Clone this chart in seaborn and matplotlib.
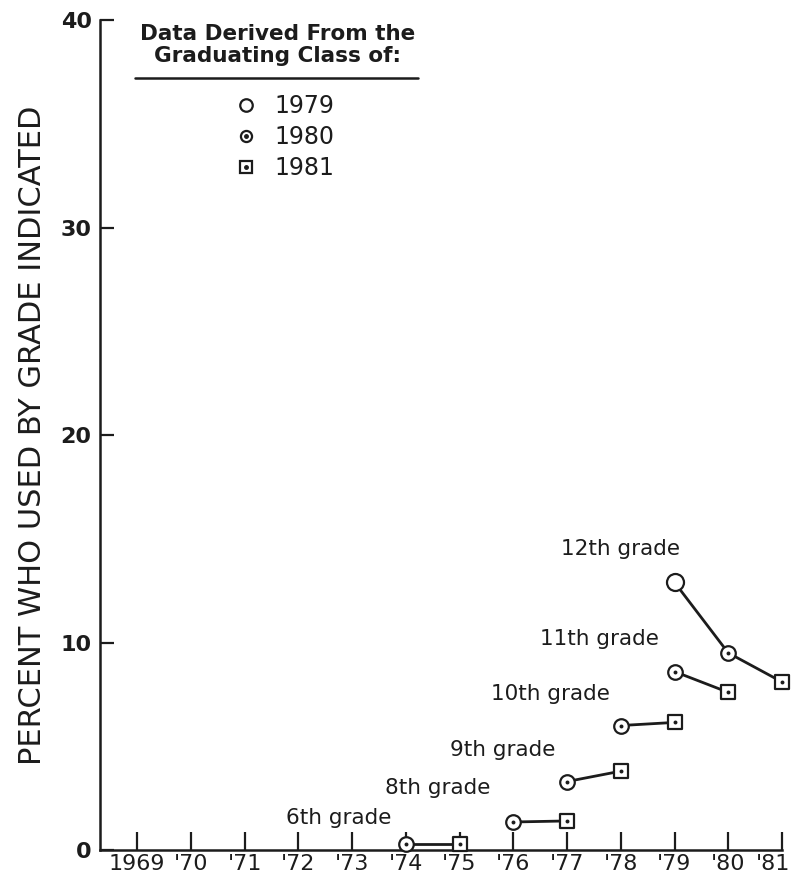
import pandas as pd
import matplotlib.pyplot as plt
import matplotlib.transforms as mtransforms
import seaborn as sns
from matplotlib.lines import Line2D
from matplotlib.legend_handler import HandlerTuple

# one row per point: grade, survey year, graduating class, percent
grade = ['6th', '6th', '8th', '8th', '9th', '9th', '10th', '10th',
         '11th', '11th', '12th', '12th', '12th']
year = [1974, 1975, 1976, 1977, 1977, 1978, 1978, 1979,
        1979, 1980, 1979, 1980, 1981]
grad_class = [1980, 1981, 1980, 1981, 1980, 1981, 1980, 1981,
              1980, 1981, 1979, 1980, 1981]
percent = [0.3, 0.3, 1.35, 1.4, 3.3, 3.8, 6.0, 6.15,
           8.6, 7.6, 12.9, 9.5, 8.1]

grade_labels = ['6th grade', '8th grade', '9th grade', '10th grade',
                '11th grade', '12th grade']
xtick_years = list(range(1969, 1982))
xtick_labels = ['1969'] + ["'%d" % (y % 100) for y in range(1970, 1982)]
ytick_values = [0, 10, 20, 30, 40]

df = pd.DataFrame({'grade': grade, 'year': year,
                   'grad_class': grad_class, 'percent': percent})

ink = '#1c1c1c'
sns.set_style('ticks')
plt.rcParams['font.family'] = ['DejaVu Sans']

fig = plt.figure(figsize=(7.98, 8.81), dpi=100)
ax = fig.add_axes([0.1253, 0.0352, 0.98 - 0.1253, 0.977 - 0.0352])

# connecting lines, one per grade
sns.lineplot(data=df, x='year', y='percent', units='grade', estimator=None,
             color=ink, linewidth=2, sort=True, ax=ax, legend=False)

# markers: open circle / circle with dot / square with dot
marker_map = {1979: 'o', 1980: 'o', 1981: 's'}
size_map = {1979: 150, 1980: 110, 1981: 100}
for c in [1979, 1980, 1981]:
    sub = df[df['grad_class'] == c]
    sns.scatterplot(data=sub, x='year', y='percent', marker=marker_map[c],
                    s=size_map[c], facecolor='white', edgecolor=ink,
                    linewidth=1.6, zorder=3, ax=ax, legend=False, clip_on=False)
    if c != 1979:
        sns.scatterplot(data=sub, x='year', y='percent', marker='o', s=8,
                        color=ink, linewidth=0, zorder=4, ax=ax, legend=False,
                        clip_on=False)

# grade labels
label_pos = [(1972.75, 1.55), (1974.6, 3.0), (1975.8, 4.8), (1976.7, 7.5),
             (1977.6, 10.15), (1978.0, 14.5)]
for txt, (lx, ly) in zip(grade_labels, label_pos):
    ax.text(lx, ly, txt, ha='center', va='center', fontsize=15.5, color=ink)

ax.set_xlim(1968.31, 1981)
ax.set_ylim(0, 40)
ax.set_xticks(xtick_years)
ax.set_xticklabels(xtick_labels, fontsize=16, color=ink)
ax.set_yticks(ytick_values)
ax.set_yticklabels([str(v) for v in ytick_values], fontsize=16, color=ink,
                   fontweight='bold')
ax.tick_params(axis='x', direction='in', length=13, width=1.6, pad=3, color=ink)
ax.tick_params(axis='y', direction='in', length=10, width=1.6, pad=6, color=ink)
# last year label sits a little left of its tick, as in the original
last = ax.get_xticklabels()[-1]
last.set_transform(last.get_transform() +
                   mtransforms.ScaledTranslation(-0.09, 0, fig.dpi_scale_trans))
ax.set_xlabel('')
ax.set_ylabel('PERCENT WHO USED BY GRADE INDICATED', fontsize=22, color=ink,
              labelpad=10)
sns.despine(ax=ax)
for sp in ['left', 'bottom']:
    ax.spines[sp].set_linewidth(1.8)
    ax.spines[sp].set_color(ink)

# legend
ax.text(0.26, 0.97, 'Data Derived From the\nGraduating Class of:',
        transform=ax.transAxes, ha='center', va='center', fontsize=15.5,
        fontweight='bold', color=ink, linespacing=1.15)
ax.plot([0.051, 0.466], [0.930, 0.930], transform=ax.transAxes, color=ink,
        linewidth=1.8, clip_on=False)

h1979 = Line2D([], [], marker='o', markersize=9, markerfacecolor='white',
               markeredgecolor=ink, markeredgewidth=1.6, linestyle='')
ring = Line2D([], [], marker='o', markersize=8, markerfacecolor='white',
              markeredgecolor=ink, markeredgewidth=1.6, linestyle='')
sq = Line2D([], [], marker='s', markersize=8, markerfacecolor='white',
            markeredgecolor=ink, markeredgewidth=1.6, linestyle='')
dot = Line2D([], [], marker='o', markersize=2.5, color=ink, linestyle='')
leg = ax.legend([h1979, (ring, dot), (sq, dot)], ['1979', '1980', '1981'],
                handler_map={tuple: HandlerTuple(ndivide=1)},
                loc='upper center', bbox_to_anchor=(0.27, 0.925), frameon=False,
                fontsize=17, handlelength=1.0, handletextpad=0.7,
                labelspacing=0.3, borderpad=0.0)
for t in leg.get_texts():
    t.set_color(ink)

fig.savefig('out.png', dpi=100)
